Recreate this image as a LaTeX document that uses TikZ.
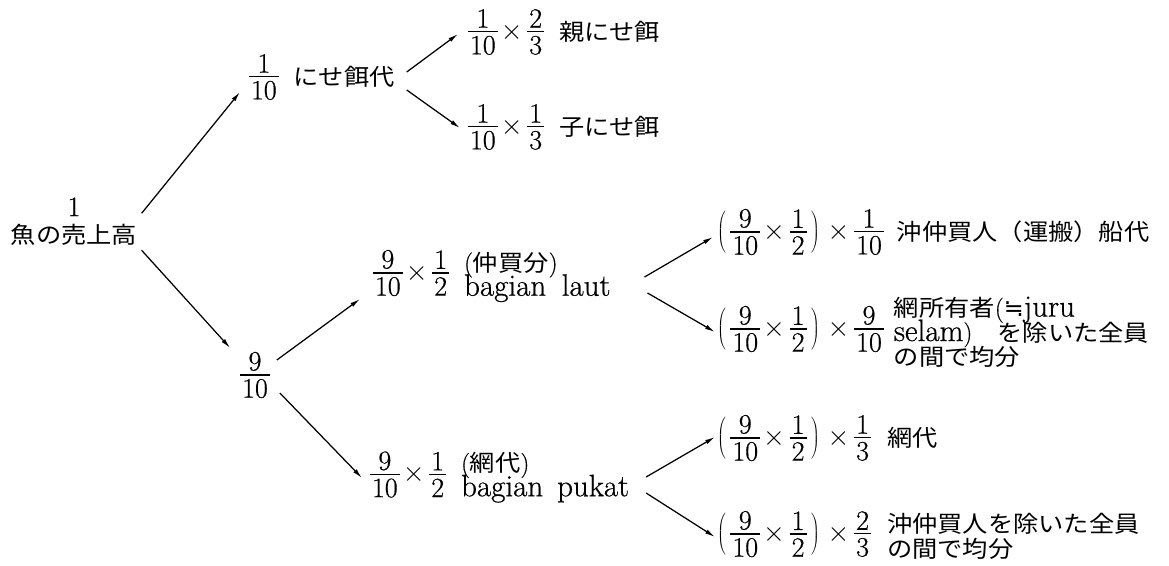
\RequirePackage{fix-cm}
\documentclass[tikz,border=0pt]{standalone}
\usepackage{fontspec}
\setmainfont{Latin Modern Roman}[FakeBold=0.6]
\usetikzlibrary{arrows.meta,calc}
\newfontfamily\jp{Noto Sans CJK JP}[Scale=0.82,FakeStretch=1.1]
\newfontfamily\dv{DejaVu Sans}[Scale=0.85]
\newcommand\J[1]{{\jp #1}}
\newcommand\lat[1]{{\fontsize{31}{25}\selectfont #1}}
\newcommand\smp[1]{{\fontsize{25}{25}\selectfont #1}}
% stacked fraction with a tight bar, centred on the math axis
\newcommand\fr[2]{\vcenter{\offinterlineskip\halign{\hfil\kern2pt##\kern2pt\hfil\cr#1\cr\noalign{\kern3.5pt\hrule height1.2pt\kern3.5pt}#2\cr}}}
% block of left-aligned text lines, centred on the math axis and lowered by #1
\newcommand\tblock[2][0pt]{\lower#1\hbox{$\vcenter{\baselineskip=24.5pt\lineskiplimit=-\maxdimen\lineskip=0pt\halign{##\hfil\cr#2\crcr}}$}}
\newcommand\tms{\mkern2mu{\times}\mkern3mu}
\newcommand\pp[1]{\left(\mkern3mu#1\mkern3mu\right)}
\tikzset{
  lbl/.style={inner sep=0pt, outer sep=0pt, anchor=west, font=\fontsize{28}{25}\selectfont},
  arr/.style={line width=1.25pt, -{Latex[length=10pt,width=4.5pt]}}
}
\begin{document}
\begin{tikzpicture}[x=1pt,y=-1pt]
\useasboundingbox[fill=white] (0,0) rectangle (1169,565);

% nodes
\node[lbl,anchor=south,align=center,font=\fontsize{28}{27}\selectfont] (root) at (74,245) {1\\\J{魚の売上高}};
\node[lbl] (nisee) at (249,77) {$\fr{1}{10}\hspace{15pt}\tblock{\J{にせ餌代}}$};
\node[lbl] (oya) at (468,32) {$\fr{1}{10}\tms\fr{2}{3}\hspace{15pt}\tblock{\J{親にせ餌}}$};
\node[lbl] (ko) at (468,127) {$\fr{1}{10}\tms\fr{1}{3}\hspace{15pt}\tblock{\J{子にせ餌}}$};
\node[lbl,anchor=center] (mid) at (255,375) {$\fr{9}{10}$};
\node[lbl] (laut) at (373,276) {$\fr{9}{10}\tms\fr{1}{2}\hspace{15pt}\tblock[4pt]{\smp{(}\J{仲買分}\smp{)}\cr \lat{bagian\hspace{0.5em}laut}}$};
\node[lbl] (pukat) at (370,477) {$\fr{9}{10}\tms\fr{1}{2}\hspace{15pt}\tblock[3pt]{\smp{(}\J{網代}\smp{)}\cr \lat{bagian\hspace{0.45em}pukat}}$};
\node[lbl] (r1) at (717,232) {$\pp{\fr{9}{10}\tms\fr{1}{2}}\tms\fr{1}{10}\hspace{13pt}\tblock{\J{沖仲買人（運搬）船代}}$};
\node[lbl] (r2) at (717,332) {$\pp{\fr{9}{10}\tms\fr{1}{2}}\tms\fr{9}{10}\hspace{10pt}\tblock[3pt]{\J{網所有者}\smp{(}{\dv ≒}\lat{juru}\cr \lat{selam\smp{)}}\J{　を除いた全員}\cr\J{の間で均分}}$};
\node[lbl] (r3) at (717,438) {$\pp{\fr{9}{10}\tms\fr{1}{2}}\tms\fr{1}{3}\hspace{16pt}\tblock{\J{網代}}$};
\node[lbl] (r4) at (717,535) {$\pp{\fr{9}{10}\tms\fr{1}{2}}\tms\fr{2}{3}\hspace{16pt}\tblock[2pt]{\J{沖仲買人を除いた全員}\cr\J{の間で均分}}$};

% connectors
\draw[arr] ([shift={(4.5,-8)}]root.east) -- ([shift={(-9,15)}]nisee.west);
\draw[arr] ([shift={(4.5,29)}]root.east) -- ([shift={(-10,-27)}]mid.west);
\draw[arr] ([shift={(12,-5)}]nisee.east) -- ([shift={(-10,2)}]oya.west);
\draw[arr] ([shift={(12,13)}]nisee.east) -- ([shift={(-8,1)}]ko.west);
\draw[arr] ([shift={(7,-15)}]mid.east) -- ([shift={(-13,23)}]laut.west);
\draw[arr] ([shift={(10,18)}]mid.east) -- ([shift={(-8,1)}]pukat.west);
\draw[arr] ([shift={(34,1)}]laut.east) -- ([shift={(-4,5)}]r1.west);
\draw[arr] ([shift={(37,17)}]laut.east) -- ([shift={(-2,0)}]r2.west);
\draw[arr] ([shift={(17,0)}]pukat.east) -- ([shift={(-2,-1)}]r3.west);
\draw[arr] ([shift={(17,16)}]pukat.east) -- ([shift={(-2,2)}]r4.west);
\end{tikzpicture}
\end{document}
